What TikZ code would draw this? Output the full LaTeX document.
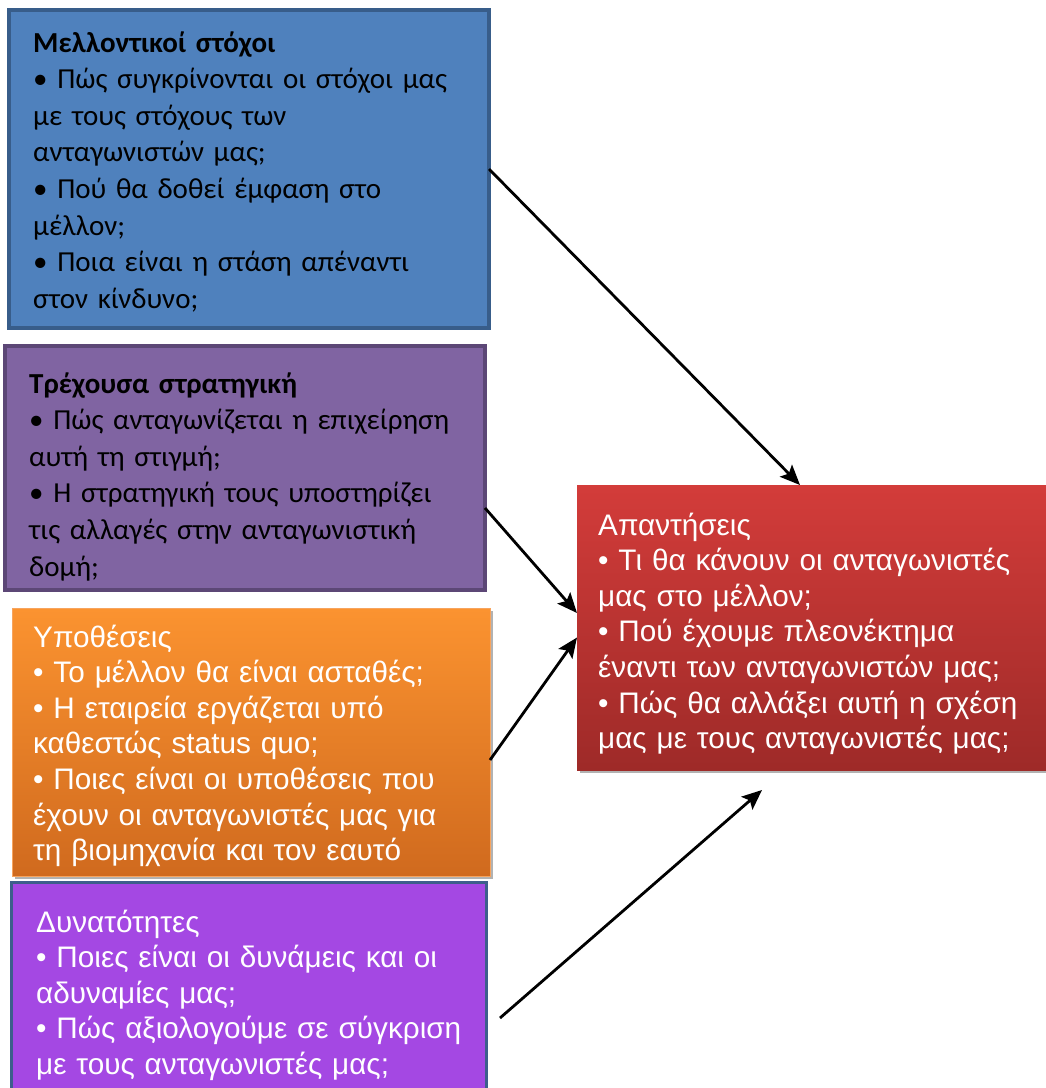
\documentclass[tikz,border=0pt]{standalone}
\usepackage{fontspec}
\setmainfont{Liberation Sans}
\newfontfamily\calfont{Carlito}
\newfontfamily\arfont{Liberation Sans}
\usetikzlibrary{arrows.meta,shadows}
\definecolor{blueF}{HTML}{4F81BD}
\definecolor{blueD}{HTML}{385D8A}
\definecolor{purpF}{HTML}{8064A2}
\definecolor{purpD}{HTML}{5C4776}
\definecolor{orT}{HTML}{FB9330}
\definecolor{orB}{HTML}{D06A1E}
\definecolor{orD}{HTML}{F7A45E}
\definecolor{violF}{HTML}{A448E3}
\definecolor{violD}{HTML}{3D5E8C}
\definecolor{redT}{HTML}{D33C3A}
\definecolor{redB}{HTML}{9E2A28}
\begin{document}
\begin{tikzpicture}[x=1pt,y=-1pt,
  box/.style={rectangle, anchor=north west, inner sep=0pt, outer sep=0pt},
  calbox/.style={anchor=base west, inner sep=0pt, text width=470pt, align=left,
     font={\calfont\fontsize{29}{36.6}\selectfont}, text=black},
  arbox/.style={anchor=base west, inner sep=0pt, text width=470pt, align=left,
     font={\arfont\fontsize{29.7}{35.6}\selectfont}, text=white},
  shad/.style={drop shadow={shadow xshift=3pt, shadow yshift=-3pt, opacity=0.3, fill=black}},
  arr/.style={line width=2.8pt, -{Stealth[length=20pt,width=17pt,inset=4pt]}}]
\clip (0,0) rectangle (1046,1088);
\fill[white] (0,0) rectangle (1046,1088);

\node[box, draw=blueD, line width=4pt, fill=blueF, minimum width=480pt, minimum height=318pt] (b1) at (9,10) {};
\node[box, draw=purpD, line width=4pt, fill=purpF, minimum width=480pt, minimum height=244pt] (b2) at (5,346) {};
\node[box, shad, draw=orD, line width=0.6pt, top color=orT, bottom color=orB, minimum width=478pt, minimum height=268pt] (b3) at (12,608) {};
\node[box, draw=violD, line width=3pt, fill=violF, minimum width=475pt, minimum height=250pt] (b4) at (11.5,882.5) {};
\node[box, shad, top color=redT, bottom color=redB, minimum width=480pt, minimum height=285pt] (b5) at (577,485) {};

\node[calbox] (t1) at (33,52) {\textbf{Μελλοντικοί στόχοι}\\
• Πώς συγκρίνονται οι στόχοι μας\\
με τους στόχους των\\
ανταγωνιστών μας;\\
• Πού θα δοθεί έμφαση στο\\
μέλλον;\\
• Ποια είναι η στάση απέναντι\\
στον κίνδυνο;};

\node[calbox] (t2) at (29,393) {\textbf{Τρέχουσα στρατηγική}\\
• Πώς ανταγωνίζεται η επιχείρηση\\
αυτή τη στιγμή;\\
• Η στρατηγική τους υποστηρίζει\\
τις αλλαγές στην ανταγωνιστική\\
δομή;};

\node[arbox] (t3) at (33,647) {Υποθέσεις\\
• Το μέλλον θα είναι ασταθές;\\
• Η εταιρεία εργάζεται υπό\\
καθεστώς status quo;\\
• Ποιες είναι οι υποθέσεις που\\
έχουν οι ανταγωνιστές μας για\\
τη βιομηχανία και τον εαυτό};

\node[arbox] (t4) at (36,932) {Δυνατότητες\\
• Ποιες είναι οι δυνάμεις και οι\\
αδυναμίες μας;\\
• Πώς αξιολογούμε σε σύγκριση\\
με τους ανταγωνιστές μας;};

\node[arbox] (t5) at (598,535) {Απαντήσεις\\
• Τι θα κάνουν οι ανταγωνιστές\\
μας στο μέλλον;\\
• Πού έχουμε πλεονέκτημα\\
έναντι των ανταγωνιστών μας;\\
• Πώς θα αλλάξει αυτή η σχέση\\
μας με τους ανταγωνιστές μας;};

\draw[arr] (b1.east) -- ([xshift=223pt]b5.north west);
\draw[arr] ([yshift=-40pt]b2.east) -- ([yshift=14.5pt]b5.west);
\draw[arr] ([yshift=-18pt]b3.east) -- ([yshift=-10pt]b5.west);
\coordinate (a4s) at ([xshift=13.5pt,yshift=-10.5pt]b4.east);
\coordinate (a4e) at ([xshift=185pt,yshift=-20pt]b5.south west);
\draw[arr] (a4s) -- (a4e);
\end{tikzpicture}
\end{document}
